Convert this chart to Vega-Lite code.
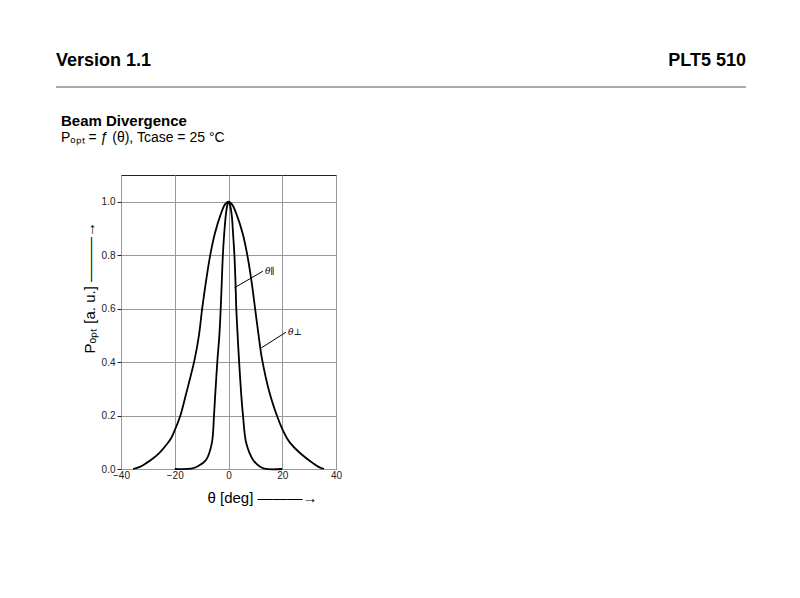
{
  "$schema": "https://vega.github.io/schema/vega-lite/v6.json",
  "background": "white",
  "padding": {"left": 55, "top": 52, "right": 10, "bottom": 10},
  "config": {"font": "Liberation Sans", "view": {"stroke": null}},
  "spacing": 25,
  "datasets": {
    "curves": [
      {"series": "perp", "theta": -35.5, "p": 0},
      {"series": "perp", "theta": -33, "p": 0.008},
      {"series": "perp", "theta": -30.6, "p": 0.022},
      {"series": "perp", "theta": -28, "p": 0.04},
      {"series": "perp", "theta": -25.7, "p": 0.06},
      {"series": "perp", "theta": -22.6, "p": 0.097},
      {"series": "perp", "theta": -21.2, "p": 0.118},
      {"series": "perp", "theta": -20, "p": 0.145},
      {"series": "perp", "theta": -17.9, "p": 0.2},
      {"series": "perp", "theta": -15.7, "p": 0.284},
      {"series": "perp", "theta": -12.6, "p": 0.41},
      {"series": "perp", "theta": -11.0, "p": 0.5},
      {"series": "perp", "theta": -9.8, "p": 0.6},
      {"series": "perp", "theta": -8.4, "p": 0.7},
      {"series": "perp", "theta": -6.8, "p": 0.8},
      {"series": "perp", "theta": -5.1, "p": 0.88},
      {"series": "perp", "theta": -3.0, "p": 0.95},
      {"series": "perp", "theta": -1.3, "p": 0.99},
      {"series": "perp", "theta": 0, "p": 1.0},
      {"series": "perp", "theta": 1.3, "p": 0.99},
      {"series": "perp", "theta": 3.1, "p": 0.95},
      {"series": "perp", "theta": 5.3, "p": 0.88},
      {"series": "perp", "theta": 7.0, "p": 0.8},
      {"series": "perp", "theta": 8.6, "p": 0.7},
      {"series": "perp", "theta": 9.9, "p": 0.6},
      {"series": "perp", "theta": 11.2, "p": 0.5},
      {"series": "perp", "theta": 12.5, "p": 0.41},
      {"series": "perp", "theta": 15.3, "p": 0.284},
      {"series": "perp", "theta": 18, "p": 0.2},
      {"series": "perp", "theta": 20.2, "p": 0.145},
      {"series": "perp", "theta": 21.6, "p": 0.118},
      {"series": "perp", "theta": 23, "p": 0.097},
      {"series": "perp", "theta": 26.6, "p": 0.06},
      {"series": "perp", "theta": 31.4, "p": 0.022},
      {"series": "perp", "theta": 33.5, "p": 0.008},
      {"series": "perp", "theta": 35.5, "p": 0},
      {"series": "par", "theta": -20, "p": 0},
      {"series": "par", "theta": -13.9, "p": 0.001},
      {"series": "par", "theta": -11.4, "p": 0.01},
      {"series": "par", "theta": -8.3, "p": 0.035},
      {"series": "par", "theta": -6.2, "p": 0.097},
      {"series": "par", "theta": -5.4, "p": 0.2},
      {"series": "par", "theta": -4.9, "p": 0.284},
      {"series": "par", "theta": -4.1, "p": 0.41},
      {"series": "par", "theta": -3.4, "p": 0.5},
      {"series": "par", "theta": -2.9, "p": 0.6},
      {"series": "par", "theta": -2.5, "p": 0.7},
      {"series": "par", "theta": -2.1, "p": 0.8},
      {"series": "par", "theta": -1.6, "p": 0.88},
      {"series": "par", "theta": -1.0, "p": 0.95},
      {"series": "par", "theta": -0.4, "p": 0.99},
      {"series": "par", "theta": 0, "p": 1.0},
      {"series": "par", "theta": 0.5, "p": 0.99},
      {"series": "par", "theta": 1.2, "p": 0.95},
      {"series": "par", "theta": 1.7, "p": 0.88},
      {"series": "par", "theta": 2.2, "p": 0.8},
      {"series": "par", "theta": 2.6, "p": 0.7},
      {"series": "par", "theta": 2.9, "p": 0.6},
      {"series": "par", "theta": 3.4, "p": 0.5},
      {"series": "par", "theta": 3.9, "p": 0.41},
      {"series": "par", "theta": 4.7, "p": 0.284},
      {"series": "par", "theta": 5.4, "p": 0.2},
      {"series": "par", "theta": 6.6, "p": 0.097},
      {"series": "par", "theta": 9.1, "p": 0.035},
      {"series": "par", "theta": 11.5, "p": 0.01},
      {"series": "par", "theta": 13.4, "p": 0.001},
      {"series": "par", "theta": 20, "p": 0}
    ],
    "leaders": [
      {"x": 2.2, "y": 0.678, "x2": 12.8, "y2": 0.74, "label": "θ∥"},
      {"x": 12.2, "y": 0.453, "x2": 21.4, "y2": 0.512, "label": "θ⊥"}
    ]
  },
  "vconcat": [
    {
      "width": 690,
      "height": 21,
      "layer": [
        {
          "data": {"values": [{"label": "Version 1.1"}]},
          "mark": {"type": "text", "align": "left", "baseline": "alphabetic", "fontSize": 18, "fontWeight": "bold", "color": "#000"},
          "encoding": {
            "x": {"datum": 0, "type": "quantitative", "scale": {"domain": [0, 1], "range": [-65, 625]}, "axis": null},
            "y": {"datum": 1, "type": "quantitative", "scale": {"domain": [0, 1]}, "axis": null},
            "text": {"field": "label"}
          }
        },
        {
          "data": {"values": [{"label": "PLT5 510"}]},
          "mark": {"type": "text", "align": "right", "baseline": "alphabetic", "fontSize": 18, "fontWeight": "bold", "color": "#000"},
          "encoding": {
            "x": {"datum": 1, "type": "quantitative"},
            "y": {"datum": 1, "type": "quantitative"},
            "text": {"field": "label"}
          }
        },
        {
          "data": {"values": [{}]},
          "mark": {"type": "rule", "color": "#555", "strokeWidth": 1},
          "encoding": {
            "x": {"datum": 0, "type": "quantitative"},
            "x2": {"datum": 1},
            "y": {"datum": 0, "type": "quantitative"}
          }
        }
      ]
    },
    {
      "width": 215,
      "height": 294,
      "view": {"stroke": "#222", "strokeWidth": 1},
      "title": {
        "text": "Beam Divergence",
        "subtitle": "Pₒₚₜ = ƒ (θ), Tcase = 25 °C",
        "anchor": "start",
        "frame": "group",
        "dx": -60,
        "offset": 30,
        "fontSize": 15,
        "fontWeight": "bold",
        "color": "#000",
        "subtitleFontSize": 14,
        "subtitleColor": "#000",
        "subtitlePadding": 2
      },
      "layer": [
        {
          "data": {"name": "curves"},
          "mark": {"type": "line", "color": "#000", "strokeWidth": 1.8, "interpolate": "catmull-rom"},
          "encoding": {
            "x": {
              "field": "theta", "type": "quantitative",
              "scale": {"domain": [-40, 40], "nice": false},
              "axis": {
                "values": [-40, -20, 0, 20, 40],
                "labelFlush": false,
                "labelFontSize": 10,
                "labelColor": "#222",
                "labelPadding": 1,
                "ticks": false,
                "domain": false,
                "grid": true,
                "gridColor": "#999",
                "gridWidth": 1,
                "title": "θ [deg]   ———→",
                "titleFontSize": 15,
                "titleFontWeight": "normal",
                "titleColor": "#000",
                "titleAlign": "left",
                "titleBaseline": "alphabetic",
                "titleX": 86,
                "titleY": 33
              }
            },
            "y": {
              "field": "p", "type": "quantitative",
              "scale": {"domain": [0, 1.1], "nice": false},
              "axis": {
                "values": [0, 0.2, 0.4, 0.6, 0.8, 1.0],
                "format": ".1f",
                "labelFontSize": 10,
                "labelColor": "#222",
                "labelPadding": 2,
                "tickSize": 4,
                "tickColor": "#222",
                "domain": false,
                "grid": true,
                "gridColor": "#999",
                "gridWidth": 1,
                "title": "Pₒₚₜ [a. u.]  ———→",
                "titleFontSize": 15,
                "titleFontWeight": "normal",
                "titleColor": "#000",
                "titleAngle": -90,
                "titleAlign": "left",
                "titleBaseline": "middle",
                "titleX": -32,
                "titleY": 178
              }
            },
            "detail": {"field": "series"}
          }
        },
        {
          "data": {"name": "leaders"},
          "mark": {"type": "rule", "color": "#000", "strokeWidth": 1},
          "encoding": {
            "x": {"field": "x", "type": "quantitative"},
            "y": {"field": "y", "type": "quantitative"},
            "x2": {"field": "x2"},
            "y2": {"field": "y2"}
          }
        },
        {
          "data": {"name": "leaders"},
          "mark": {"type": "text", "align": "left", "baseline": "middle", "dx": 2, "font": "DejaVu Serif", "fontStyle": "italic", "fontSize": 9, "color": "#000"},
          "encoding": {
            "x": {"field": "x2", "type": "quantitative"},
            "y": {"field": "y2", "type": "quantitative"},
            "text": {"field": "label"}
          }
        }
      ]
    }
  ]
}
